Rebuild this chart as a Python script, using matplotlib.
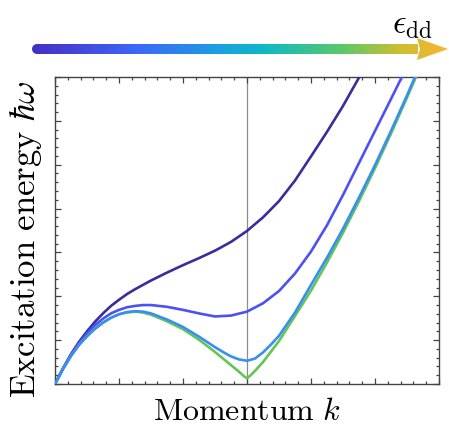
import numpy as np
import matplotlib
matplotlib.use("Agg")
import matplotlib.pyplot as plt
from matplotlib.colors import LinearSegmentedColormap
from matplotlib.path import Path
from matplotlib.patches import PathPatch
from matplotlib.ticker import MultipleLocator

plt.rcParams['mathtext.fontset'] = 'cm'

# ---------------- data ----------------
k_dark = [0, 0.125, 0.25, 0.375, 0.5, 0.625, 0.75, 0.875, 1.0, 1.125, 1.25, 1.375, 1.5,
          1.75, 2.0, 2.25, 2.5, 2.75, 3.0, 3.25, 3.5, 3.75, 4.0, 4.25, 4.5, 4.755]
e_dark = [0, 0.36, 0.68, 0.96, 1.20, 1.42, 1.61, 1.78, 1.92, 2.05, 2.16, 2.26, 2.36,
          2.54, 2.71, 2.87, 3.04, 3.24, 3.49, 3.80, 4.17, 4.64, 5.19, 5.75, 6.34, 7.0]

k_blue = [0, 0.125, 0.25, 0.375, 0.5, 0.625, 0.75, 0.875, 1.0, 1.125, 1.25, 1.375, 1.5,
          1.75, 2.0, 2.25, 2.5, 2.75, 3.0, 3.25, 3.5, 3.75, 4.0, 4.25, 4.5, 4.75, 5.0,
          5.25, 5.42]
e_blue = [0, 0.35, 0.66, 0.93, 1.15, 1.34, 1.49, 1.61, 1.69, 1.75, 1.78, 1.80, 1.80,
          1.76, 1.69, 1.61, 1.54, 1.56, 1.65, 1.84, 2.12, 2.52, 3.02, 3.62, 4.31, 5.04,
          5.77, 6.50, 7.0]

k_light = [0, 0.125, 0.25, 0.375, 0.5, 0.625, 0.75, 0.875, 1.0, 1.125, 1.25, 1.375, 1.5,
           1.75, 2.0, 2.25, 2.5, 2.625, 2.75, 2.875, 3.0, 3.125, 3.25, 3.375, 3.5, 3.75,
           4.0, 4.25, 4.5, 4.75, 5.0, 5.25, 5.5, 5.625]
e_light = [0, 0.34, 0.64, 0.89, 1.09, 1.26, 1.40, 1.51, 1.59, 1.64, 1.66, 1.65, 1.61,
           1.47, 1.30, 1.08, 0.84, 0.73, 0.63, 0.56, 0.53, 0.58, 0.72, 0.90, 1.10, 1.63,
           2.26, 2.88, 3.54, 4.25, 4.99, 5.77, 6.58, 7.0]

k_green = [0, 0.125, 0.25, 0.375, 0.5, 0.625, 0.75, 0.875, 1.0, 1.125, 1.25, 1.375, 1.5,
           1.75, 2.0, 2.25, 2.5, 2.75, 2.875, 2.95, 3.0, 3.05, 3.125, 3.25, 3.5, 3.75,
           4.0, 4.25, 4.5, 4.75, 5.0, 5.25, 5.5, 5.64]
e_green = [0, 0.34, 0.64, 0.89, 1.09, 1.26, 1.40, 1.51, 1.59, 1.63, 1.65, 1.63, 1.58,
           1.43, 1.25, 1.01, 0.73, 0.43, 0.28, 0.18, 0.13, 0.19, 0.30, 0.50, 0.98, 1.55,
           2.13, 2.77, 3.45, 4.17, 4.92, 5.71, 6.53, 7.0]

k_roton = 3.0

curves = [(k_dark, e_dark, '#3b2c9c'),
          (k_blue, e_blue, '#4b52ef'),
          (k_green, e_green, '#62c656'),
          (k_light, e_light, '#3a8ef2')]

arrow_colors = ['#4630c4', '#3d66f8', '#1c9fe2', '#0bb8c8', '#5cc86a', '#c8c030', '#fbb531']
arrow_stops = [0.0, 0.25, 0.45, 0.55, 0.75, 0.88, 1.0]

# ---------------- figure ----------------
W, H = 449, 430
fig = plt.figure(figsize=(W / 100, H / 100), dpi=100)
ax = fig.add_axes([55 / W, 1 - 384 / H, 384 / W, 307 / H])

ax.axvline(k_roton, color='#8c8c8c', lw=0.9, zorder=1)
for k, e, c in curves:
    ax.plot(k, e, color=c, lw=1.9, solid_capstyle='round', solid_joinstyle='round', zorder=3)

ax.set_xlim(0, 6)
ax.set_ylim(0, 7)
ax.xaxis.set_major_locator(MultipleLocator(1))
ax.xaxis.set_minor_locator(MultipleLocator(0.2))
ax.yaxis.set_major_locator(MultipleLocator(1))
ax.yaxis.set_minor_locator(MultipleLocator(0.2))
ax.tick_params(which='both', direction='in', top=True, right=True,
               labelbottom=False, labelleft=False, color='#444444', width=0.9)
ax.tick_params(which='major', length=4.5)
ax.tick_params(which='minor', length=2.5)
for sp in ax.spines.values():
    sp.set_color('#444444')
    sp.set_linewidth(1.0)

ax.set_xlabel(r'$\mathrm{Momentum}\ k$', fontsize=23, labelpad=9)
ax.set_ylabel(r'$\mathrm{Excitation\ energy}\ \hbar\omega$', fontsize=25, labelpad=8)
ax.yaxis.label.set_y(0.47)

# ---------------- gradient arrow on top ----------------
top = fig.add_axes([0, 0, 1, 1], zorder=-1)
top.set_xlim(0, W)
top.set_ylim(H, 0)
top.axis('off')

cmap = LinearSegmentedColormap.from_list('edd', list(zip(arrow_stops, arrow_colors)))
x0, x1, xh, yc = 32, 448, 417, 49
hw, hh = 5, 11

# shaft with rounded left end, plus triangular head
theta = np.linspace(np.pi / 2, 3 * np.pi / 2, 20)
cap = np.column_stack([x0 + hw + hw * np.cos(theta), yc - hw * np.sin(theta)])
shaft = np.vstack([[xh + 1, yc - hw], cap, [xh + 1, yc + hw], [xh + 1, yc - hw]])
head = np.array([[xh, yc - hh], [x1, yc], [xh, yc + hh], [xh + 3, yc], [xh, yc - hh]])
path = Path.make_compound_path(Path(shaft, closed=True), Path(head, closed=True))
patch = PathPatch(path, facecolor='none', edgecolor='none')
top.add_patch(patch)

grad = np.linspace(0, 1, 256).reshape(1, -1)
im = top.imshow(grad, cmap=cmap, extent=[x0, x1, yc + hh, yc - hh], aspect='auto')
im.set_clip_path(patch)

top.text(433, 33, r'$\epsilon_{\mathrm{dd}}$', fontsize=24, ha='right', va='baseline')

fig.savefig('out.png', dpi=100)
